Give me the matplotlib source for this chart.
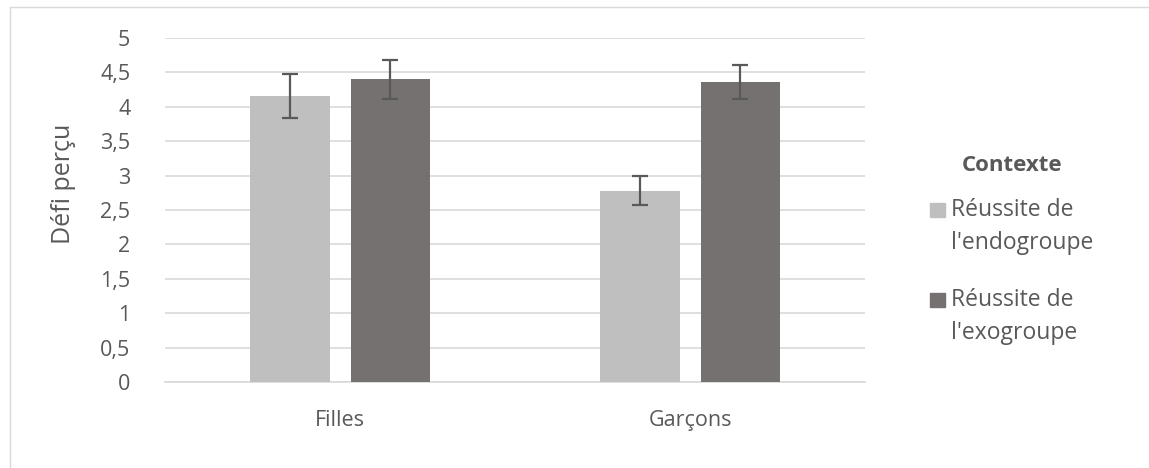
import matplotlib.pyplot as plt
from matplotlib.patches import Rectangle

# Données
categories = ['Filles', 'Garçons']
series = ["Réussite de\nl'endogroupe", "Réussite de\nl'exogroupe"]
endo = [4.15, 2.78]
exo = [4.40, 4.36]
endo_err = [0.32, 0.21]
exo_err = [0.28, 0.25]
yticks = [0, 0.5, 1, 1.5, 2, 2.5, 3, 3.5, 4, 4.5, 5]
ytick_labels = ['0', '0,5', '1', '1,5', '2', '2,5', '3', '3,5', '4', '4,5', '5']

c_endo = '#BFBFBF'
c_exo = '#767171'
txt = '#595959'

plt.rcParams['font.family'] = ['Open Sans', 'DejaVu Sans']

fig = plt.figure(figsize=(11.49, 4.68), dpi=100)
ax = fig.add_axes([165/1149, 1-382/468, 700/1149, 344/468])

# bordure du graphique (coupée à droite et en bas)
fig.patches.append(Rectangle((10/1149, -0.1), 1.2, (1-7/468)+0.1, transform=fig.transFigure,
                             fill=False, edgecolor='#D9D9D9', linewidth=1))

x = range(len(categories))
w = 0.226
off = 0.143
ekw = dict(ecolor='#595959', elinewidth=1.6, capsize=5.5, capthick=1.6)
ax.bar([i - off for i in x], endo, w, color=c_endo, yerr=endo_err, error_kw=ekw, zorder=3)
ax.bar([i + off for i in x], exo, w, color=c_exo, yerr=exo_err, error_kw=ekw, zorder=3)

ax.set_xlim(-0.5, 1.5)
ax.set_ylim(0, 5)
ax.set_yticks(yticks)
ax.set_yticklabels(ytick_labels)
ax.set_xticks(list(x))
ax.set_xticklabels(categories)
ax.tick_params(axis='both', length=0, labelsize=15.5, colors=txt)
ax.tick_params(axis='y', pad=25)
ax.tick_params(axis='x', pad=20)
ax.grid(axis='y', color='#D9D9D9', linewidth=1.2, zorder=0)
for s in ['top', 'right', 'left']:
    ax.spines[s].set_visible(False)
ax.spines['bottom'].set_color('#D9D9D9')
ax.spines['bottom'].set_linewidth(1.2)
ax.set_ylabel('Défi perçu', fontsize=18, color=txt, labelpad=17, y=0.575)

# légende
fig.text(1012/1149, 1-165/468, 'Contexte', fontsize=16, fontweight='bold',
         color=txt, ha='center', va='center')
for k, (lab, col) in enumerate(zip(series, [c_endo, c_exo])):
    yc = 210 + 90*k
    fig.patches.append(Rectangle((930/1149, 1 - (yc + 7)/468), 15/1149, 14/468,
                                 transform=fig.transFigure, color=col))
    for j, line in enumerate(lab.split('\n')):
        fig.text(951/1149, 1 - (yc + 33*j)/468, line, fontsize=16.5, color=txt,
                 ha='left', va='center')

fig.savefig('out.png', dpi=100)
